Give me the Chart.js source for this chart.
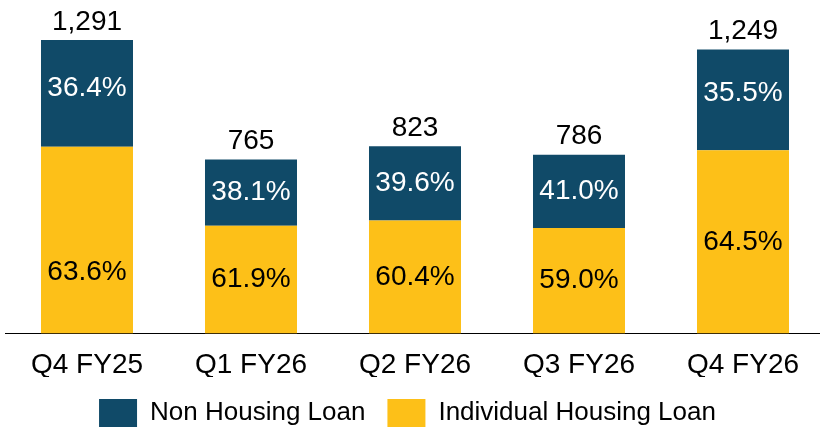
<!DOCTYPE html>
<html>
<head>
<meta charset="utf-8">
<script src="https://cdn.jsdelivr.net/npm/chart.js@4.4.1/dist/chart.umd.min.js"></script>
<style>
  html, body { margin: 0; padding: 0; background: #ffffff; }
  #wrap { width: 820px; height: 429px; position: relative; }
</style>
</head>
<body>
<div id="wrap"><canvas id="c" width="820" height="429"></canvas></div>
<script>
const categories = ["Q4 FY25", "Q1 FY26", "Q2 FY26", "Q3 FY26", "Q4 FY26"];
const totals = [1291, 765, 823, 786, 1249];
const nonHousingPct = [36.4, 38.1, 39.6, 41.0, 35.5];
const housingPct = [63.6, 61.9, 60.4, 59.0, 64.5];

const housingValues = totals.map((t, i) => ({ x: i, y: t * housingPct[i] / 100 }));
const nonHousingValues = totals.map((t, i) => ({ x: i, y: t * nonHousingPct[i] / 100 }));

const BLUE = "#104A68";
const YELLOW = "#FDC018";
const FONT = "'Liberation Sans', Arial, sans-serif";

const labelPlugin = {
  id: "labels",
  afterDatasetsDraw(chart, args, opts) {
    const ctx = chart.ctx;
    const nudges = opts.nudges || {};
    ctx.save();
    ctx.font = "28px " + FONT;
    ctx.textAlign = "center";
    ctx.textBaseline = "middle";
    chart.data.datasets.forEach((ds, di) => {
      const meta = chart.getDatasetMeta(di);
      meta.data.forEach((bar, i) => {
        const pct = ds.pctLabels[i];
        const dy = nudges[di + "-" + i] || 0;
        ctx.fillStyle = ds.labelColor;
        ctx.fillText(pct.toFixed(1) + "%", bar.x, (bar.y + bar.base) / 2 + dy);
      });
    });
    const topMeta = chart.getDatasetMeta(chart.data.datasets.length - 1);
    ctx.fillStyle = "#000000";
    topMeta.data.forEach((bar, i) => {
      ctx.fillText(totals[i].toLocaleString("en-US"), bar.x, bar.y - 18);
    });
    ctx.restore();
  }
};

const legendShift = {
  id: "legendShift",
  afterLayout(chart) {
    if (chart.legend) {
      chart.legend.left -= 5;
      chart.legend.right -= 5;
    }
  }
};

new Chart(document.getElementById("c"), {
  type: "bar",
  data: {
    datasets: [
      {
        label: "Individual Housing Loan",
        data: housingValues,
        pctLabels: housingPct,
        labelColor: "#000000",
        backgroundColor: YELLOW,
        borderWidth: 0,
        categoryPercentage: 1,
        barPercentage: 0.561
      },
      {
        label: "Non Housing Loan",
        data: nonHousingValues,
        pctLabels: nonHousingPct,
        labelColor: "#ffffff",
        backgroundColor: BLUE,
        borderWidth: 0,
        categoryPercentage: 1,
        barPercentage: 0.561
      }
    ]
  },
  options: {
    responsive: false,
    animation: false,
    layout: { padding: { left: 5, right: 0, top: 0, bottom: -8 } },
    plugins: {
      tooltip: { enabled: false },
      labels: { nudges: { "0-0": 32, "1-0": -5, "1-4": -7 } },
      legend: {
        position: "bottom",
        reverse: true,
        labels: {
          boxWidth: 38,
          boxHeight: 28,
          padding: 22,
          color: "#000000",
          font: { family: FONT, size: 26 }
        }
      }
    },
    scales: {
      x: {
        type: "linear",
        offset: false,
        stacked: true,
        min: -0.5,
        max: 4.4695,
        afterBuildTicks(scale) {
          scale.ticks = categories.map((c, i) => ({ value: i }));
        },
        afterFit(scale) { scale.height = 43.6; },
        grid: { display: false, drawTicks: false },
        border: { display: true, color: "#000000", width: 1 },
        ticks: {
          color: "#000000",
          font: { family: FONT, size: 28 },
          padding: 15,
          autoSkip: false,
          maxRotation: 0,
          callback: (v) => categories[v] ?? ""
        }
      },
      y: {
        stacked: true,
        display: false,
        min: 0,
        max: 1467
      }
    }
  },
  plugins: [labelPlugin, legendShift]
});
</script>
</body>
</html>
